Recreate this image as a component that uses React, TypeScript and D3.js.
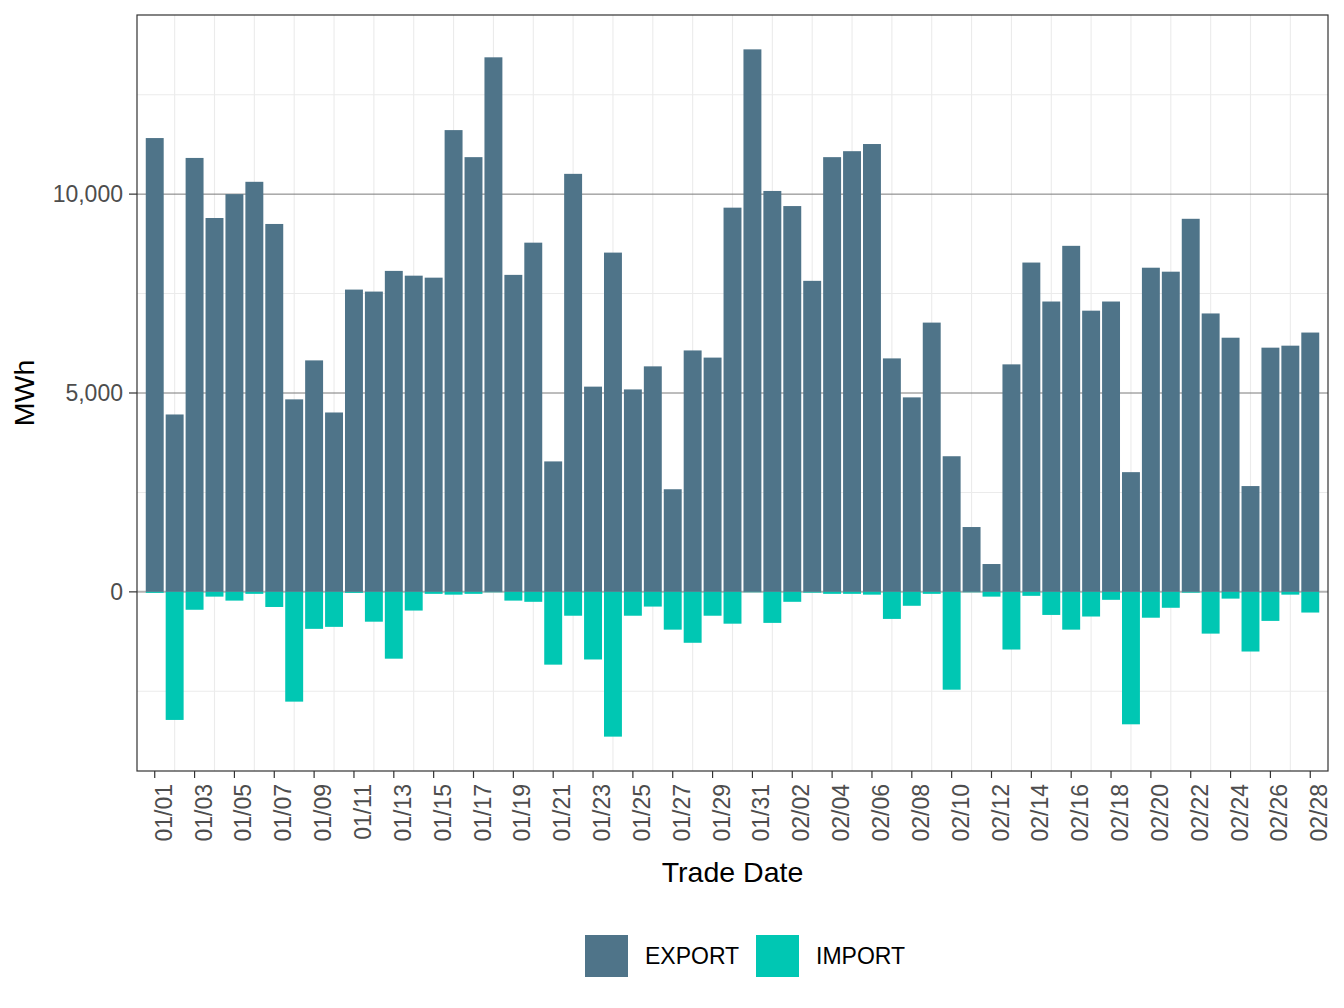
import { useEffect, useRef } from 'react';
import * as d3 from 'd3';

// trade dates, Jan 1 to Feb 28
const dates = [
  '01/01', '01/02', '01/03', '01/04', '01/05', '01/06', '01/07', '01/08', '01/09', '01/10',
  '01/11', '01/12', '01/13', '01/14', '01/15', '01/16', '01/17', '01/18', '01/19', '01/20',
  '01/21', '01/22', '01/23', '01/24', '01/25', '01/26', '01/27', '01/28', '01/29', '01/30',
  '01/31', '02/01', '02/02', '02/03', '02/04', '02/05', '02/06', '02/07', '02/08', '02/09',
  '02/10', '02/11', '02/12', '02/13', '02/14', '02/15', '02/16', '02/17', '02/18', '02/19',
  '02/20', '02/21', '02/22', '02/23', '02/24', '02/25', '02/26', '02/27', '02/28',
];

const exportMWh = [
  11410, 4460, 10910, 9400, 10000, 10310, 9250, 4840, 5820, 4510,
  7600, 7550, 8070, 7950, 7900, 11610, 10930, 13440, 7970, 8780,
  3280, 10510, 5160, 8530, 5090, 5670, 2580, 6070, 5890, 9660,
  13640, 10080, 9700, 7820, 10930, 11080, 11260, 5870, 4890, 6770,
  3410, 1630, 700, 5720, 8280, 7300, 8700, 7070, 7300, 3010,
  8150, 8050, 9380, 7000, 6390, 2660, 6140, 6190, 6520,
];

const importMWh = [
  -25, -3220, -450, -120, -220, -50, -380, -2760, -930, -880,
  -25, -750, -1680, -470, -50, -70, -50, -10, -220, -250,
  -1830, -600, -1700, -3640, -600, -370, -950, -1280, -600, -800,
  -10, -780, -250, -20, -50, -50, -70, -680, -350, -50,
  -2460, -10, -120, -1450, -100, -580, -950, -620, -200, -3330,
  -650, -400, -20, -1050, -170, -1500, -730, -70, -520,
];

const series = ['EXPORT', 'IMPORT'];
const seriesColors = ['#4f7489', '#00c7b3'];
const yTicks = [0, 5000, 10000];
const yMinorTicks = [-2500, 2500, 7500, 12500];

const FONT = '"Liberation Sans", Arial, Helvetica, sans-serif';

export default function App() {
  const ref = useRef<HTMLDivElement>(null);

  useEffect(() => {
    const width = 1344;
    const height = 1008;
    const left = 137;
    const right = 1328;
    const top = 15;
    const bottom = 771;

    // ggplot-like 5% expansion of the continuous y range
    const lo = d3.min(importMWh) as number;
    const hi = d3.max(exportMWh) as number;
    const pad = (hi - lo) * 0.05;
    const y = d3.scaleLinear().domain([lo - pad, hi + pad]).range([bottom, top]);

    const x = d3
      .scaleBand<string>()
      .domain(dates)
      .range([left, right])
      .paddingInner(0.1)
      .paddingOuter(0.44);
    const cx = (d: string) => (x(d) as number) + x.bandwidth() / 2;

    const svg = d3
      .create('svg')
      .attr('width', width)
      .attr('height', height)
      .attr('viewBox', `0 0 ${width} ${height}`)
      .style('position', 'absolute')
      .style('left', '0px')
      .style('top', '0px')
      .style('font-family', FONT);

    svg.append('rect').attr('width', width).attr('height', height).attr('fill', '#fff');

    // light grid
    const grid = svg.append('g');
    grid
      .selectAll('line.vy')
      .data(dates.filter((_, i) => i % 2 === 1))
      .join('line')
      .attr('x1', (d) => cx(d))
      .attr('x2', (d) => cx(d))
      .attr('y1', top)
      .attr('y2', bottom)
      .attr('stroke', '#ebebeb')
      .attr('stroke-width', 1.1);
    grid
      .selectAll('line.my')
      .data(yMinorTicks)
      .join('line')
      .attr('x1', left)
      .attr('x2', right)
      .attr('y1', (d) => y(d))
      .attr('y2', (d) => y(d))
      .attr('stroke', '#ebebeb')
      .attr('stroke-width', 1.1);
    grid
      .selectAll('line.jy')
      .data(yTicks)
      .join('line')
      .attr('x1', left)
      .attr('x2', right)
      .attr('y1', (d) => y(d))
      .attr('y2', (d) => y(d))
      .attr('stroke', (d) => (d === 0 ? '#b3b3b3' : '#7a7a7a'))
      .attr('stroke-width', (d) => (d === 0 ? 2 : 1));

    // bars
    const bars = svg.append('g');
    bars
      .selectAll('rect.exp')
      .data(exportMWh)
      .join('rect')
      .attr('x', (_, i) => x(dates[i]) as number)
      .attr('width', x.bandwidth())
      .attr('y', (d) => y(d))
      .attr('height', (d) => y(0) - y(d))
      .attr('fill', seriesColors[0]);
    bars
      .selectAll('rect.imp')
      .data(importMWh)
      .join('rect')
      .attr('x', (_, i) => x(dates[i]) as number)
      .attr('width', x.bandwidth())
      .attr('y', y(0))
      .attr('height', (d) => y(d) - y(0))
      .attr('fill', seriesColors[1]);

    // panel border
    svg
      .append('rect')
      .attr('x', left)
      .attr('y', top)
      .attr('width', right - left)
      .attr('height', bottom - top)
      .attr('fill', 'none')
      .attr('stroke', '#333')
      .attr('stroke-width', 1.2);

    // y axis
    const yAxis = svg.append('g');
    yAxis
      .selectAll('line')
      .data(yTicks)
      .join('line')
      .attr('x1', left - 8)
      .attr('x2', left)
      .attr('y1', (d) => y(d))
      .attr('y2', (d) => y(d))
      .attr('stroke', '#333')
      .attr('stroke-width', 1.2);
    yAxis
      .selectAll('text')
      .data(yTicks)
      .join('text')
      .attr('x', left - 14)
      .attr('y', (d) => y(d))
      .attr('dy', '0.36em')
      .attr('text-anchor', 'end')
      .attr('font-size', 23)
      .attr('fill', '#4d4d4d')
      .text((d) => d3.format(',')(d));

    // x axis, every other date labelled
    const labelled = dates.filter((_, i) => i % 2 === 0);
    const xAxis = svg.append('g');
    xAxis
      .selectAll('line')
      .data(labelled)
      .join('line')
      .attr('x1', (d) => cx(d))
      .attr('x2', (d) => cx(d))
      .attr('y1', bottom)
      .attr('y2', bottom + 7)
      .attr('stroke', '#333')
      .attr('stroke-width', 1.2);
    xAxis
      .selectAll('text')
      .data(labelled)
      .join('text')
      .attr('transform', (d) => `translate(${cx(d)},${bottom + 13}) rotate(-90)`)
      .attr('dy', '0.74em')
      .attr('text-anchor', 'end')
      .attr('font-size', 23)
      .attr('fill', '#4d4d4d')
      .text((d) => d);

    // axis titles
    svg
      .append('text')
      .attr('x', (left + right) / 2)
      .attr('y', 882)
      .attr('text-anchor', 'middle')
      .attr('font-size', 28.5)
      .attr('fill', '#000')
      .text('Trade Date');
    svg
      .append('text')
      .attr('transform', `translate(34,${(top + bottom) / 2}) rotate(-90)`)
      .attr('text-anchor', 'middle')
      .attr('font-size', 28.5)
      .attr('fill', '#000')
      .text('MWh');

    // legend
    const keyX = [585, 756];
    const legend = svg.append('g');
    series.forEach((name, i) => {
      legend
        .append('rect')
        .attr('x', keyX[i])
        .attr('y', 935)
        .attr('width', 43)
        .attr('height', 42)
        .attr('fill', seriesColors[i]);
      legend
        .append('text')
        .attr('x', keyX[i] + 60)
        .attr('y', 964)
        .attr('font-size', 23)
        .attr('fill', '#000')
        .text(name);
    });

    const node = svg.node();
    if (ref.current && node) {
      ref.current.innerHTML = '';
      ref.current.appendChild(node);
    }
  }, []);

  return <div ref={ref} style={{ width: 1344, height: 1008 }} />;
}
